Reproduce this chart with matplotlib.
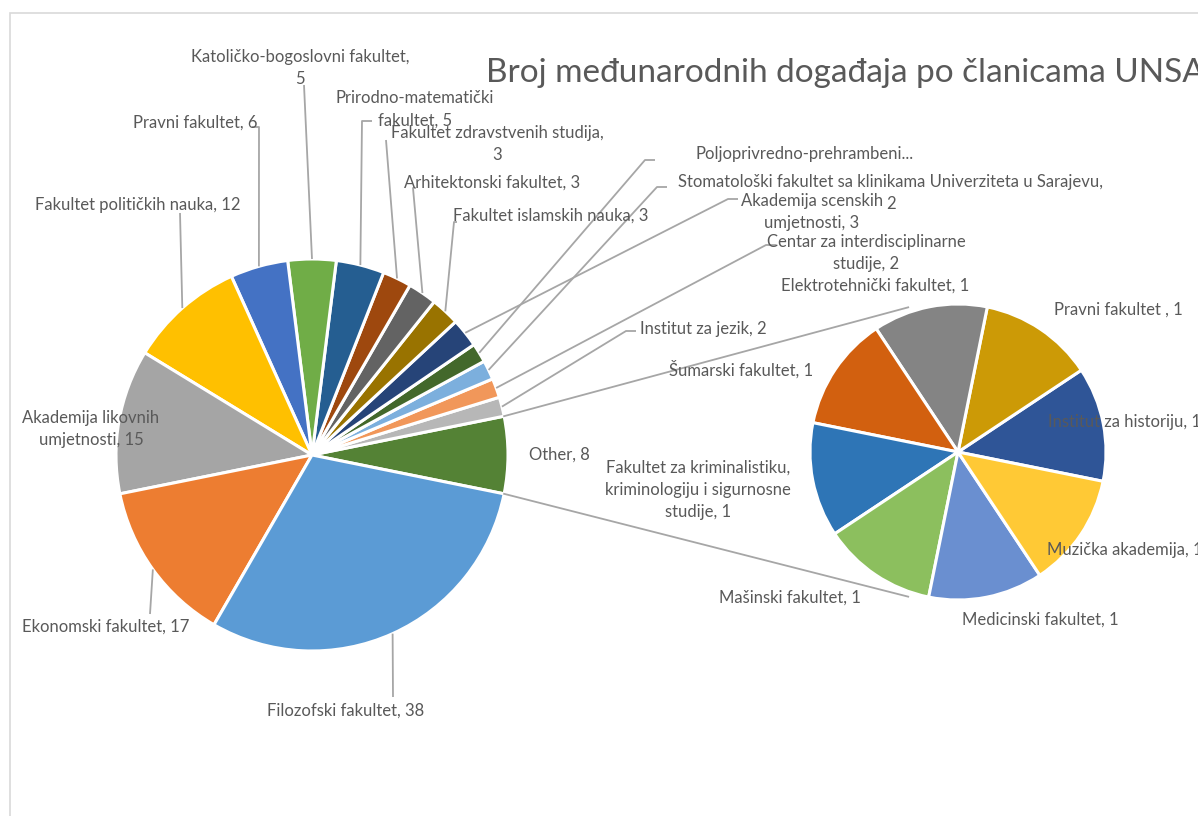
import matplotlib
matplotlib.use("Agg")
import matplotlib.pyplot as plt
import numpy as np
from matplotlib.patches import Rectangle

plt.rcParams['font.family'] = ['Lato', 'DejaVu Sans']

# ---------------- data ----------------
title = "Broj međunarodnih događaja po članicama UNSA"

main_categories = [
    "Other", "Institut za jezik", "Centar za interdisciplinarne studije",
    "Stomatološki fakultet sa klinikama Univerziteta u Sarajevu",
    "Poljoprivredno-prehrambeni fakultet", "Akademija scenskih umjetnosti",
    "Fakultet islamskih nauka", "Arhitektonski fakultet",
    "Fakultet zdravstvenih studija", "Prirodno-matematički fakultet",
    "Katoličko-bogoslovni fakultet", "Pravni fakultet",
    "Fakultet političkih nauka", "Akademija likovnih umjetnosti",
    "Ekonomski fakultet", "Filozofski fakultet",
]
main_values = [8, 2, 2, 2, 2, 3, 3, 3, 3, 5, 5, 6, 12, 15, 17, 38]
main_label_text = [
    "Other, 8", "Institut za jezik, 2", "Centar za interdisciplinarne\nstudije, 2",
    "Stomatološki fakultet sa klinikama Univerziteta u Sarajevu,\n2",
    "Poljoprivredno-prehrambeni...", "Akademija scenskih\numjetnosti, 3",
    "Fakultet islamskih nauka, 3", "Arhitektonski fakultet, 3",
    "Fakultet zdravstvenih studija,\n3", "Prirodno-matematički\nfakultet, 5",
    "Katoličko-bogoslovni fakultet,\n5", "Pravni fakultet, 6",
    "Fakultet političkih nauka, 12", "Akademija likovnih\numjetnosti, 15",
    "Ekonomski fakultet, 17", "Filozofski fakultet, 38",
]
main_colors = ["#548235", "#B7B7B7", "#F1975A", "#7CAFDD", "#43682B", "#264478",
               "#997300", "#636363", "#9E480E", "#255E91", "#70AD47", "#4472C4",
               "#FFC000", "#A5A5A5", "#ED7D31", "#5B9BD5"]

sec_categories = ["Institut za historiju", "Pravni fakultet ", "Elektrotehnički fakultet",
                  "Šumarski fakultet",
                  "Fakultet za kriminalistiku, kriminologiju i sigurnosne studije",
                  "Mašinski fakultet", "Medicinski fakultet", "Muzička akademija"]
sec_values = [1, 1, 1, 1, 1, 1, 1, 1]
sec_label_text = ["Institut za historiju, 1", "Pravni fakultet , 1",
                  "Elektrotehnički fakultet, 1", "Šumarski fakultet, 1",
                  "Fakultet za kriminalistiku,\nkriminologiju i sigurnosne\nstudije, 1",
                  "Mašinski fakultet, 1", "Medicinski fakultet, 1", "Muzička akademija, 1"]
sec_colors = ["#2F5597", "#CC9A06", "#848484", "#D2600F", "#2E75B6", "#8CBF5E",
              "#6A8FD0", "#FFC935"]

# ---------------- layout (pixel coordinates, y down) ----------------
W, H = 1198, 816
MAIN_C, MAIN_R = (312, 455), 196
SEC_C, SEC_R = (958, 452), 148
TEXT = "#595959"
LINE = "#A6A6A6"
FS = 12

# text centre, and leader end points (elbow, end) or None
main_layout = [
    ((559, 455), None),
    ((703, 329), [(626, 331), (636, 331)]),
    ((866, 253), [(766, 245), (776, 245)]),
    ((891, 193), [(657, 187), (667, 187)]),
    ((805, 154), [(645, 160), (655, 160)]),
    ((812, 212), [(728, 199), (738, 199)]),
    ((551, 216), [(454, 222), (457, 222)]),
    ((492, 183), [(413, 188), (416, 188)]),
    ((497, 144), [(386, 140), (386, 140)]),
    ((415, 109), [(362, 121), (372, 121)]),
    ((300, 68), [(304, 85), (304, 85)]),
    ((195, 123), [(259, 127), (252, 127)]),
    ((138, 205), [(180, 213), (180, 213)]),
    ((91, 429), None),
    ((106, 627), [(150, 614), (150, 614)]),
    ((346, 711), [(393, 697), (393, 697)]),
]
sec_layout = [(1125, 422), (1118, 310), (875, 286), (741, 369), (698, 490),
              (790, 598), (1040, 620), (1125, 550)]
CONNECT_ANGLE = 109
CONNECT_R = SEC_R + 5


def P(x, y):
    return x, H - y


fig = plt.figure(figsize=(W / 100, H / 100), dpi=100)
ax = fig.add_axes([0, 0, 1, 1])

total = sum(main_values)
main_start = -main_values[0] / total * 360 / 2
sec_start = main_start

ax.pie(main_values, colors=main_colors, startangle=main_start, counterclock=True,
       center=P(*MAIN_C), radius=MAIN_R,
       wedgeprops=dict(edgecolor="white", linewidth=2.2))
ax.pie(sec_values, colors=sec_colors, startangle=sec_start, counterclock=True,
       center=P(*SEC_C), radius=SEC_R,
       wedgeprops=dict(edgecolor="white", linewidth=2.2))

# labels + leader lines for the main pie
cum = np.cumsum([0] + main_values)
for i, txt in enumerate(main_label_text):
    (tx, ty), leader = main_layout[i]
    ax.text(*P(tx, ty), txt, ha="center", va="center", fontsize=FS,
            color=TEXT, linespacing=1.5, zorder=5)
    if leader is not None:
        mid = np.deg2rad(main_start + (cum[i] + cum[i + 1]) / 2 / total * 360)
        cx, cy = P(*MAIN_C)
        ex, ey = cx + MAIN_R * np.cos(mid), cy + MAIN_R * np.sin(mid)
        pts = [(ex, ey)] + [P(*p) for p in leader]
        ax.plot([p[0] for p in pts], [p[1] for p in pts], color=LINE, lw=1.3,
                zorder=4, solid_capstyle="butt")

# labels for the secondary pie
for i, txt in enumerate(sec_label_text):
    ax.text(*P(*sec_layout[i]), txt, ha="center", va="center", fontsize=FS,
            color=TEXT, linespacing=1.5, zorder=5)

# connector lines between the "Other" slice and the secondary pie
mcx, mcy = P(*MAIN_C)
scx, scy = P(*SEC_C)
half = np.deg2rad(main_values[0] / total * 360 / 2)
for sgn in (1, -1):
    a = sgn * half
    b = np.deg2rad(sgn * CONNECT_ANGLE)
    ax.plot([mcx + MAIN_R * np.cos(a), scx + CONNECT_R * np.cos(b)],
            [mcy + MAIN_R * np.sin(a), scy + CONNECT_R * np.sin(b)],
            color=LINE, lw=1.3, zorder=1)

# title
ax.text(*P(486, 73), title, ha="left", va="center", fontsize=24, color=TEXT)

# chart area border
ax.add_patch(Rectangle(P(10, H + 5), W, H - 8, fill=False, edgecolor="#D9D9D9",
                       lw=1.2, zorder=0))

ax.set_xlim(0, W)
ax.set_ylim(0, H)
ax.set_aspect("equal")
ax.axis("off")
fig.savefig("out.png", dpi=100)
